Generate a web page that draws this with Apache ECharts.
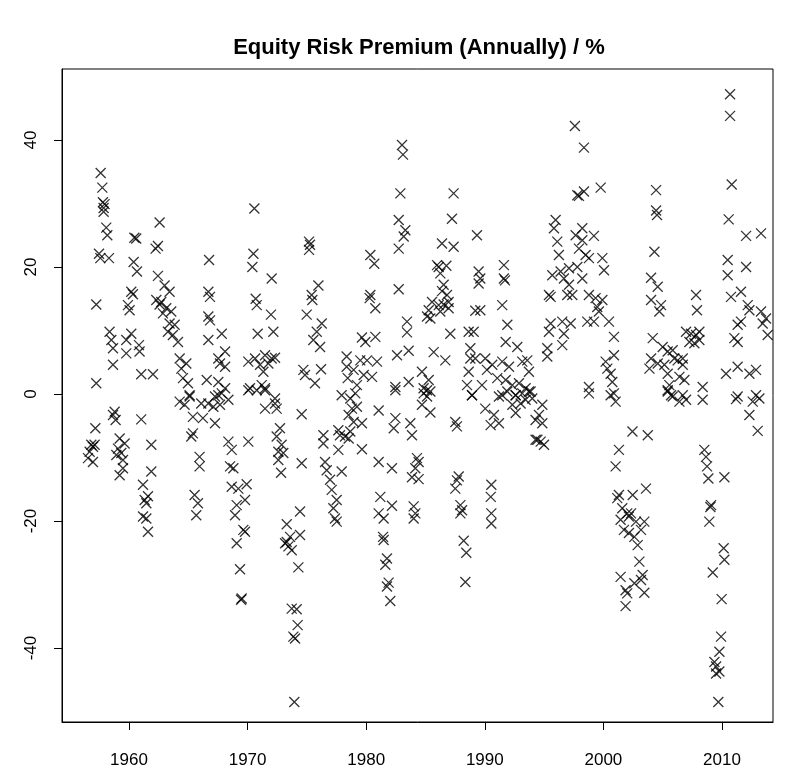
<!DOCTYPE html>
<html>
<head>
<meta charset="utf-8">
<title>Equity Risk Premium</title>
<script src="https://cdn.jsdelivr.net/npm/echarts@6/dist/echarts.min.js"></script>
<style>
  html, body { margin: 0; padding: 0; background: #fff; }
  #chart { width: 785px; height: 777px; }
</style>
</head>
<body>
<div id="chart"></div>
<script>
// date (decimal year) of each observation
const years = [
  1957.61, 1957.75, 1957.80, 1957.94, 1957.86, 1957.86, 1958.08, 1958.17, 1957.47, 1957.58,
  1958.31, 1957.24, 1960.61, 1960.45, 1960.39, 1960.67, 1960.19, 1960.33, 1959.91, 1960.05,
  1962.58, 1962.44, 1962.24, 1962.44, 1963.00, 1963.42, 1962.30, 1962.72, 1962.58, 1963.14,
  1962.86, 1963.56, 1963.42, 1963.85, 1963.28, 1963.70, 1964.13, 1964.27, 1964.83, 1964.41,
  1964.55, 1964.97, 1965.11, 1958.36, 1958.51, 1958.65, 1958.65, 1959.77, 1960.19, 1960.84,
  1960.89, 1959.77, 1961.03, 1962.02, 1957.24, 1966.55,
  1957.16, 1956.82, 1956.96, 1957.10, 1956.68, 1956.54, 1956.96, 1958.79, 1958.65, 1958.87,
  1961.03, 1959.21, 1959.63, 1959.07, 1959.35, 1958.93, 1959.49, 1959.49, 1959.21, 1961.88,
  1961.88, 1961.18, 1961.60, 1961.32, 1961.46, 1961.18, 1961.46, 1961.60, 1964.27, 1964.69,
  1965.11, 1965.39, 1966.09, 1966.23, 1965.39, 1965.25, 1965.95, 1965.95, 1965.53, 1965.81,
  1965.67,
  1970.57, 1970.49, 1970.40, 1972.03, 1975.18, 1975.26, 1975.18, 1975.97, 1975.40, 1975.46,
  1974.98, 1976.25, 1975.83, 1975.54, 1976.11, 1974.70, 1974.84, 1976.19, 1975.68, 1966.75,
  1966.69, 1966.83, 1966.69, 1966.83, 1967.82, 1966.69, 1967.53, 1968.10, 1967.67, 1968.10,
  1967.53, 1968.10, 1967.82, 1967.25, 1970.68, 1970.77, 1971.97, 1972.17, 1970.85, 1970.06,
  1970.63, 1971.05, 1971.47, 1972.03, 1971.75, 1972.31, 1971.33, 1970.20, 1971.19, 1971.47,
  1970.77, 1972.31, 1977.93, 1978.35, 1978.35, 1978.44,
  1967.53, 1966.69, 1967.11, 1967.67, 1968.38, 1967.25, 1970.06, 1971.47, 1971.47, 1972.31,
  1972.45, 1974.56, 1968.38, 1968.66, 1970.06, 1972.73, 1972.45, 1972.87, 1972.59, 1973.01,
  1972.59, 1972.82, 1974.56, 1968.52, 1968.80, 1968.66, 1969.22, 1969.92, 1969.08, 1969.78,
  1968.94, 1969.64, 1969.78, 1969.08, 1969.36, 1969.50, 1969.45, 1973.30, 1973.58, 1973.16,
  1973.44, 1973.72, 1973.30, 1974.42, 1974.42, 1974.28, 1973.72, 1974.14, 1974.22, 1973.86,
  1974.00, 1973.94, 1976.39, 1976.39, 1977.65, 1977.79, 1978.21, 1977.65, 1976.53, 1976.67,
  1977.93, 1976.95, 1977.09, 1977.51, 1977.23, 1977.37, 1977.51,
  1983.02, 1983.10, 1982.88, 1987.37, 1982.74, 1983.30, 1983.16, 1982.74, 1987.23, 1989.34,
  1986.39, 1987.37, 1980.35, 1980.68, 1980.35, 1980.29, 1980.77, 1982.74, 1985.97, 1986.11,
  1986.76, 1986.25, 1986.53, 1986.39, 1986.81, 1986.95, 1986.53, 1985.55, 1985.27, 1985.13,
  1985.41, 1986.11, 1986.95, 1986.25, 1989.48, 1989.62, 1989.48, 1989.20, 1989.62, 1983.44,
  1983.44, 1987.09, 1988.64, 1989.06, 1979.64, 1980.77, 1979.93, 1982.60, 1983.58, 1985.69,
  1986.67, 1988.78, 1989.20, 1990.04, 1988.78, 1979.50, 1980.07, 1980.91, 1978.94, 1979.79,
  1980.49, 1979.22, 1982.46, 1983.58, 1984.70, 1985.27, 1984.84, 1985.41, 1985.13, 1988.64,
  1988.50, 1989.76, 1988.92, 1990.18,
  1978.66, 1979.08, 1978.80, 1979.22, 1978.52, 1978.94, 1979.64, 1978.66, 1978.52, 1979.64,
  1981.05, 1982.46, 1984.84, 1985.13, 1984.70, 1985.41, 1982.46, 1982.32, 1983.72, 1983.86,
  1987.51, 1987.65, 1988.92, 1990.04, 1981.05, 1982.17, 1984.28, 1984.42, 1984.14, 1983.86,
  1984.42, 1987.80, 1987.65, 1987.51, 1981.19, 1982.17, 1981.05, 1981.47, 1984.00, 1984.14,
  1984.00, 1987.94, 1988.08, 1987.94, 1990.55, 1990.50, 1990.55, 1990.55, 1981.42, 1981.47,
  1988.22, 1988.44, 1981.75, 1981.61, 1981.89, 1981.75, 1982.03, 1988.36,
  1997.60, 1998.36, 1997.80, 1997.94, 1998.36, 1999.77, 1995.97, 1995.83, 1996.11, 1998.22,
  1997.66, 1998.22, 1999.20, 1997.94, 1998.50, 1998.78, 1999.91, 2000.05, 1991.61, 1991.61,
  1991.70, 1996.25, 1995.69, 1996.39, 1996.67, 1997.10, 1997.80, 1998.22, 1997.10, 1996.95,
  1995.41, 1995.55, 1997.38, 1991.47, 1991.90, 1991.76, 1992.74, 1998.78, 1999.34, 1999.91,
  1999.48, 1999.62, 1999.20, 2000.47, 1998.64, 1995.55, 1995.41, 1996.53, 1997.24, 1996.67,
  1996.53, 1995.27, 1995.27, 2000.89, 2000.19, 2000.89, 2000.33, 2000.61, 2000.75, 2000.89,
  1998.78, 1998.78, 1990.63, 1991.47, 1992.04, 1993.16, 1993.58, 1993.72, 1991.05, 1991.76,
  1992.32, 1992.88, 1993.44, 1993.86, 1991.47, 1992.60, 1994.00,
  1991.19, 1991.90, 1992.60, 1993.16, 1993.72, 1992.32, 1993.02, 1993.44, 1994.85, 1994.57,
  1994.28, 1994.85, 1990.77, 1991.19, 1990.49, 1992.60, 1994.28, 1994.71, 1994.99, 1994.43,
  2000.61, 2001.03, 2002.45, 2001.31, 2001.03, 2001.31, 2001.17, 2001.59, 2002.01, 2001.45,
  2002.15, 2001.73, 2002.15, 2001.45, 2001.87, 2002.01, 2001.87,
  2010.68, 2010.68, 2010.82, 2004.44, 2004.44, 2004.52, 2010.56, 2012.03, 2013.29, 2004.30,
  2010.48, 2010.48, 2012.03, 2004.02, 2004.58, 2004.02, 2004.86, 2004.72, 2007.81, 2007.89,
  2010.76, 2011.60, 2012.17, 2012.31, 2013.29, 2013.71, 2013.43, 2013.85, 2011.32, 2011.60,
  2011.04, 2011.32, 2004.16, 2005.00, 2005.42, 2005.84, 2004.02, 2004.58, 2005.14, 2005.98,
  2006.69, 2003.88, 2005.42, 2006.97, 2007.39, 2007.81, 2008.09, 2007.25, 2007.67, 2008.09,
  2006.26, 2006.69, 2006.41, 2006.83, 2005.56, 2005.42, 2006.69, 2008.37, 2005.70, 2010.34,
  2011.32, 2012.31, 2012.87, 2013.15, 2011.32,
  2005.42, 2005.84, 2006.41, 2006.97, 2008.37, 2011.18, 2012.59, 2012.87, 2012.31, 2013.01,
  2003.74, 2008.51, 2008.65, 2008.74, 2008.85, 2010.20, 2002.47, 2003.59, 2009.08, 2009.02,
  2008.93, 2002.33, 2002.75, 2003.45, 2003.17, 2002.61, 2002.89, 2003.03, 2003.31, 2003.17,
  2002.61, 2003.45, 2010.14, 2010.20, 2009.22, 2009.97, 2009.92, 2009.78, 2009.36, 2009.50,
  2009.78, 2009.50, 2009.69
]

// annual equity risk premium, %, same order as years
const premium = [
  34.8, 32.5, 30.2, 29.9, 29.3, 28.7, 26.2, 25.0, 22.1, 21.4,
  21.4, 14.1, 24.5, 24.6, 20.8, 19.3, 16.1, 15.7, 14.0, 13.2,
  27.0, 23.3, 22.9, 18.6, 17.1, 16.1, 14.8, 14.5, 14.1, 13.5,
  12.7, 13.0, 11.1, 10.9, 9.8, 9.3, 8.2, 5.6, 4.8, 4.0,
  2.5, 1.7, -0.2, 9.8, 8.5, 7.2, 4.6, 8.5, 9.5, 7.7,
  6.7, 6.4, 3.1, 3.1, 1.7, 2.2,
  -5.4, -8.0, -8.3, -8.0, -9.1, -10.1, -10.7, -2.8, -3.3, -4.1,
  -4.0, -7.0, -7.8, -8.6, -9.3, -9.6, -10.4, -11.7, -12.8, -8.0,
  -12.2, -14.3, -16.1, -16.7, -17.2, -19.3, -19.6, -21.7, -1.2, -1.7,
  -0.4, -3.6, -1.5, -3.8, -6.2, -6.7, -9.9, -11.4, -15.9, -17.2,
  -19.1,
  29.2, 22.1, 20.0, 18.2, 24.0, 23.5, 22.7, 17.1, 15.6, 14.8,
  12.5, 11.1, 9.8, 8.5, 7.4, 3.8, 3.0, 3.9, 1.7, 21.1,
  16.1, 15.3, 12.2, 11.6, 9.5, 8.5, 5.6, 6.7, 4.8, 4.3,
  1.9, 0.9, 0.1, -0.4, 15.0, 14.0, 12.5, 9.8, 9.5, 5.1,
  5.6, 4.6, 6.1, 5.6, 4.8, 5.7, 3.5, 0.9, 1.4, 0.9,
  0.6, -0.7, -0.2, 5.9, 4.3, 2.5,
  -0.2, -1.5, -2.0, -1.7, -0.9, -4.6, 0.6, 0.6, -2.3, -1.5,
  -2.3, -3.2, -7.5, -8.8, -7.5, -5.4, -6.7, -8.0, -9.1, -9.3,
  -10.4, -12.4, -10.9, -11.4, -11.7, -14.6, -14.9, -14.2, -17.5, -16.7,
  -19.1, -21.4, -21.7, -23.5, -27.6, -32.2, -32.4, -20.5, -22.5, -23.5,
  -24.0, -24.6, -23.3, -22.2, -18.5, -27.3, -33.8, -33.9, -36.4, -38.2,
  -38.5, -48.5, -6.5, -7.8, -5.7, -6.5, -6.7, -8.8, -10.7, -12.0,
  -12.2, -13.5, -15.1, -16.7, -18.0, -19.6, -20.1,
  39.2, 37.7, 31.6, 31.6, 27.4, 25.8, 24.8, 22.9, 27.6, 25.0,
  23.7, 23.2, 21.9, 20.5, 15.6, 15.1, 13.5, 16.5, 20.3, 20.0,
  20.2, 19.0, 17.2, 16.2, 15.6, 14.5, 14.1, 14.5, 13.2, 12.2,
  11.9, 14.0, 13.5, 13.0, 19.3, 18.2, 17.4, 13.1, 13.2, 11.4,
  9.7, 9.5, 9.8, 9.8, 8.9, 9.0, 8.2, 6.1, 6.8, 6.6,
  5.3, 7.2, 5.6, 5.6, 5.6, 5.3, 5.3, 5.1, 3.8, 3.0,
  2.7, 1.4, 1.1, 1.9, 3.5, 2.2, 0.9, 0.4, -0.4, 3.5,
  1.4, 1.4, -0.2, 3.8,
  -0.7, 0.1, -2.3, -2.0, -3.3, -4.4, -4.6, -5.9, -7.0, -8.7,
  -2.6, 0.6, 0.1, 0.6, -1.7, -2.9, -3.8, -5.4, -4.6, -6.5,
  -4.4, -5.1, -0.2, -2.3, -10.7, -11.7, -10.1, -10.7, -11.7, -13.1,
  -13.4, -13.0, -13.6, -14.9, -16.2, -17.6, -18.8, -19.6, -17.7, -18.8,
  -19.6, -17.5, -18.3, -18.8, -14.3, -16.2, -18.8, -20.4, -22.5, -23.0,
  -23.1, -25.0, -25.9, -26.9, -29.7, -30.3, -32.6, -29.6,
  42.2, 38.8, 31.3, 31.2, 31.9, 32.5, 27.4, 26.1, 24.0, 26.1,
  25.0, 24.2, 24.9, 22.9, 21.9, 21.4, 21.4, 19.5, 20.3, 18.2,
  17.9, 21.9, 18.7, 19.3, 18.2, 19.8, 20.0, 18.2, 17.2, 15.6,
  15.6, 15.3, 15.6, 14.0, 10.9, 8.2, 7.4, 15.6, 15.1, 14.8,
  13.7, 13.0, 11.4, 11.4, 11.4, 11.1, 9.8, 11.4, 11.1, 9.5,
  7.7, 7.2, 5.9, 9.0, 5.1, 6.1, 4.0, 3.2, 1.9, 0.1,
  1.1, 0.1, 4.6, 5.1, 4.3, 5.1, 5.3, 3.5, 2.5, 2.2,
  1.4, 1.7, 0.9, 0.4, -0.2, -0.2, -0.7,
  -0.4, 0.4, -0.2, 0.1, 0.4, -1.7, -1.5, -0.9, -1.7, -3.3,
  -4.1, -4.6, -3.3, -4.6, -4.9, -3.0, -7.2, -7.5, -8.0, -7.2,
  -0.2, -1.2, -5.9, -8.8, -11.4, -15.9, -16.4, -18.0, -18.8, -19.8,
  -19.3, -21.4, -21.9, -28.8, -30.9, -31.4, -33.4,
  47.2, 43.8, 33.0, 32.1, 28.9, 28.2, 27.5, 24.9, 25.3, 22.4,
  21.1, 18.7, 20.0, 18.3, 16.9, 14.8, 14.0, 13.0, 15.6, 13.2,
  15.3, 16.1, 14.0, 13.2, 13.0, 11.9, 11.1, 9.3, 10.9, 11.4,
  8.8, 8.2, 8.8, 7.4, 6.7, 6.9, 5.6, 4.8, 4.6, 5.6,
  5.6, 4.0, 3.2, 9.8, 9.5, 9.3, 8.5, 8.2, 8.0, 9.8,
  5.3, 4.6, 2.7, 2.2, 1.4, 0.6, -0.2, 1.1, -0.2, 3.2,
  4.3, 3.2, 3.8, -0.7, -0.4,
  0.4, -0.4, -1.2, -0.9, -0.9, -0.8, -1.2, -0.2, -3.3, -5.8,
  -6.5, -8.8, -9.9, -11.4, -13.3, -13.1, -15.9, -14.9, -17.5, -17.8,
  -20.1, -18.8, -20.1, -20.1, -21.4, -22.5, -23.8, -26.4, -28.5, -29.3,
  -29.8, -31.3, -24.3, -26.1, -28.1, -32.3, -38.2, -40.6, -42.2, -42.9,
  -43.7, -44.0, -48.5
]

const xTicks = [1960, 1970, 1980, 1990, 2000, 2010]
const yTicks = [-40, -20, 0, 20, 40]

const font = 'Liberation Sans, Arial, Helvetica, sans-serif'
const points = years.map((y, i) => [y, premium[i]])

const chart = echarts.init(document.getElementById('chart'), null, { renderer: 'canvas' })
chart.setOption({
  animation: false,
  backgroundColor: '#fff',
  title: {
    text: 'Equity Risk Premium (Annually) / %',
    left: 419,
    top: 37,
    padding: 0,
    textAlign: 'center',
    textStyle: {
      fontFamily: font,
      fontSize: 22,
      fontWeight: 'bold',
      color: '#000'
    }
  },
  grid: {
    left: 62,
    right: 12,
    top: 69,
    bottom: 55,
    show: true,
    borderColor: '#000',
    borderWidth: 1,
    backgroundColor: 'transparent'
  },
  xAxis: {
    type: 'value',
    min: 1954.35,
    max: 2014.3,
    axisLine: { show: true, onZero: false, lineStyle: { color: '#000' } },
    splitLine: { show: false },
    axisTick: {
      show: true,
      inside: false,
      length: 8,
      customValues: xTicks,
      lineStyle: { color: '#000', width: 1 }
    },
    axisLabel: {
      customValues: xTicks,
      formatter: v => String(v),
      color: '#000',
      fontFamily: font,
      fontSize: 17,
      margin: 30
    }
  },
  yAxis: {
    type: 'value',
    min: -51.65,
    max: 51.18,
    axisLine: { show: true, onZero: false, lineStyle: { color: '#000' } },
    splitLine: { show: false },
    axisTick: {
      show: true,
      inside: false,
      length: 8,
      customValues: yTicks,
      lineStyle: { color: '#000', width: 1 }
    },
    axisLabel: {
      customValues: yTicks,
      formatter: v => String(v),
      rotate: 90,
      color: '#000',
      fontFamily: font,
      fontSize: 17,
      margin: 22
    }
  },
  series: [{
    type: 'scatter',
    data: points,
    symbol: 'path://M0,0L10,10M10,0L0,10',
    symbolSize: 10,
    symbolKeepAspect: true,
    itemStyle: {
      color: 'none',
      borderColor: '#000',
      borderWidth: 1.3
    },
    emphasis: { disabled: true },
    silent: true
  }]
})
</script>
</body>
</html>
